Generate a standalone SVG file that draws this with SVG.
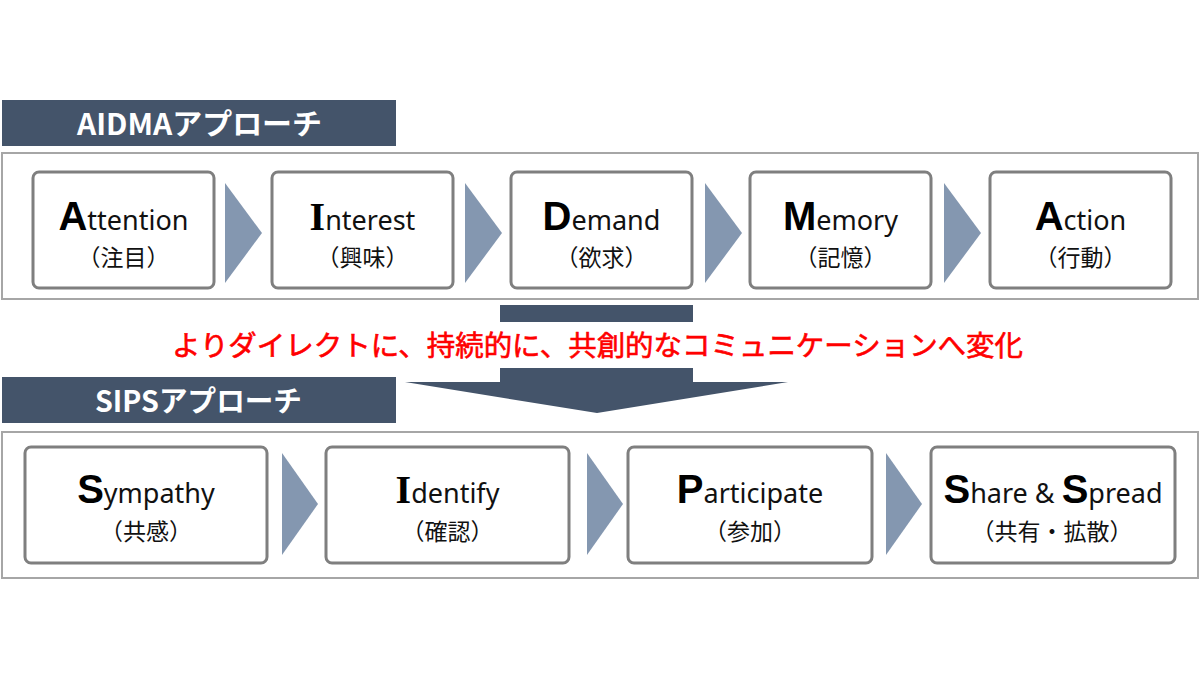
<svg xmlns="http://www.w3.org/2000/svg" width="1200" height="675" viewBox="0 0 1200 675">
<style>
.hdr{fill:#44546A}
.hdrt{fill:#FFFFFF;font-family:"Noto Sans CJK JP","Noto Sans",sans-serif;font-weight:bold;font-size:29px;text-anchor:middle}
.outer{fill:#FFFFFF;stroke:#A6A6A6;stroke-width:2}
.box{fill:#FFFFFF;stroke:#7F7F7F;stroke-width:3}
.chev{fill:#8497B0}
.en{font-family:"Noto Sans","Noto Sans CJK JP",sans-serif;font-size:27px;fill:#111111;text-anchor:middle}
.big{font-family:"Liberation Sans",Arial,sans-serif;font-weight:bold;font-size:40px;fill:#000000}
.bigI{font-family:"Liberation Serif","Times New Roman",serif;font-weight:bold;font-size:40px;fill:#000000}
.jp{font-family:"Noto Sans CJK JP",sans-serif;font-size:23px;fill:#111111;text-anchor:middle}
.red{font-family:"Noto Sans CJK JP",sans-serif;font-size:28px;font-weight:normal;fill:#FF0000;stroke:#FF0000;stroke-width:0.6;text-anchor:middle}
.darr{fill:#44546A}
</style>

<g id="aidma-header">
<rect class="hdr" x="2" y="100" width="394" height="46"/>
<text class="hdrt" x="199.5" y="135" textLength="245" lengthAdjust="spacingAndGlyphs">AIDMAアプローチ</text>
</g>
<rect id="aidma-frame" class="outer" x="2" y="153" width="1196" height="146"/>

<g id="attention">
<rect class="box" x="33" y="172" width="181" height="116" rx="6"/>
<text class="en" x="123.5" y="230"><tspan class="big">A</tspan>ttention</text>
<text class="jp" x="123.5" y="266">（注目）</text>
</g>
<g id="interest">
<rect class="box" x="272" y="172" width="181" height="116" rx="6"/>
<text class="en" x="362.5" y="230"><tspan class="bigI">I</tspan>nterest</text>
<text class="jp" x="362.5" y="266">（興味）</text>
</g>
<g id="demand">
<rect class="box" x="511" y="172" width="181" height="116" rx="6"/>
<text class="en" x="601.5" y="230"><tspan class="big">D</tspan>emand</text>
<text class="jp" x="601.5" y="266">（欲求）</text>
</g>
<g id="memory">
<rect class="box" x="750" y="172" width="181" height="116" rx="6"/>
<text class="en" x="840.5" y="230"><tspan class="big">M</tspan>emory</text>
<text class="jp" x="840.5" y="266">（記憶）</text>
</g>
<g id="action">
<rect class="box" x="990" y="172" width="181" height="116" rx="6"/>
<text class="en" x="1080.5" y="230"><tspan class="big">A</tspan>ction</text>
<text class="jp" x="1080.5" y="266">（行動）</text>
</g>

<g id="sips-header">
<rect class="hdr" x="2" y="377" width="394" height="46"/>
<text class="hdrt" x="198.5" y="412" textLength="207" lengthAdjust="spacingAndGlyphs">SIPSアプローチ</text>
</g>
<rect id="sips-frame" class="outer" x="2" y="432" width="1196" height="146"/>

<g id="sympathy">
<rect class="box" x="25" y="447" width="242" height="116" rx="6"/>
<text class="en" x="146" y="503"><tspan class="big">S</tspan>ympathy</text>
<text class="jp" x="146" y="540">（共感）</text>
</g>
<g id="identify">
<rect class="box" x="326" y="447" width="243" height="116" rx="6"/>
<text class="en" x="447.5" y="503"><tspan class="bigI">I</tspan>dentify</text>
<text class="jp" x="447.5" y="540">（確認）</text>
</g>
<g id="participate">
<rect class="box" x="628" y="447" width="244" height="116" rx="6"/>
<text class="en" x="750" y="503"><tspan class="big">P</tspan>articipate</text>
<text class="jp" x="750" y="540">（参加）</text>
</g>
<g id="share-spread">
<rect class="box" x="931" y="447" width="244" height="116" rx="6"/>
<text class="en" x="1053" y="503"><tspan class="big">S</tspan>hare &amp; <tspan class="big">S</tspan>pread</text>
<text class="jp" x="1052" y="540">（共有・拡散）</text>
</g>

<g id="connectors">
<polygon class="chev" points="225,183 262,233 225,283"/>
<polygon class="chev" points="465,183 502,233 465,283"/>
<polygon class="chev" points="705,183 742,233 705,283"/>
<polygon class="chev" points="944,183 981,233 944,283"/>
<polygon class="chev" points="282,453 318,504 282,555"/>
<polygon class="chev" points="587,453 623,504 587,555"/>
<polygon class="chev" points="886,453 922,504 886,555"/>
<g id="transition-arrow">
<rect class="darr" x="500" y="305" width="193" height="17"/>
<polygon class="darr" points="500,368 693,368 693,382 788,382 597,413 405,382 500,382"/>
</g>
</g>
<text id="transition-label" class="red" x="597.5" y="356" textLength="851" lengthAdjust="spacingAndGlyphs">よりダイレクトに、持続的に、共創的なコミュニケーションへ変化</text>
</svg>
